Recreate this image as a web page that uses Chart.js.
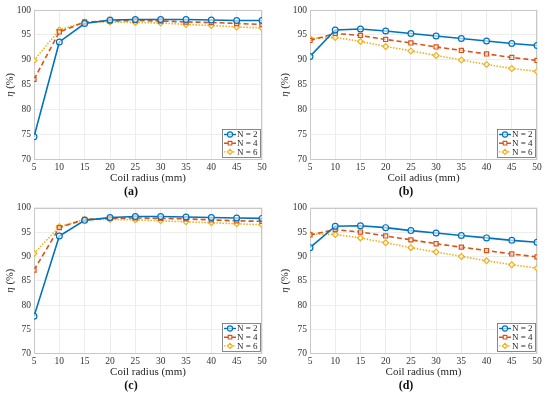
<!DOCTYPE html>
<html>
<head>
<meta charset="utf-8">
<script src="https://cdn.jsdelivr.net/npm/chart.js@4/dist/chart.umd.min.js"></script>
<style>
  body { margin: 0; background: #fff; width: 550px; height: 399px; position: relative; overflow: hidden; }
  .panel { position: absolute; }
</style>
</head>
<body>
<div class="panel" style="left:0;top:0"><canvas id="ca" width="275" height="199"></canvas></div>
<div class="panel" style="left:275px;top:0"><canvas id="cb" width="275" height="199"></canvas></div>
<div class="panel" style="left:0;top:199px"><canvas id="cc" width="275" height="200"></canvas></div>
<div class="panel" style="left:275px;top:199px"><canvas id="cd" width="275" height="200"></canvas></div>
<script>
// coil radius (mm)
const radius = [5, 10, 15, 20, 25, 30, 35, 40, 45, 50];
const seriesNames = ['N = 2', 'N = 4', 'N = 6'];
const yTicks = [70, 75, 80, 85, 90, 95, 100];

// efficiency (%) per panel
const aN2 = [74.6, 93.6, 97.3, 98.0, 98.1, 98.1, 98.1, 98.0, 97.9, 97.9];
const aN4 = [86.1, 95.6, 97.6, 97.8, 97.9, 97.8, 97.6, 97.5, 97.3, 97.1];
const aN6 = [89.9, 96.0, 97.6, 97.6, 97.5, 97.4, 97.1, 96.9, 96.6, 96.4];

const bN2 = [90.7, 96.0, 96.2, 95.8, 95.3, 94.8, 94.3, 93.8, 93.3, 92.9];
const bN4 = [93.9, 95.3, 94.9, 94.1, 93.4, 92.6, 91.9, 91.2, 90.5, 89.9];
const bN6 = [94.3, 94.5, 93.7, 92.7, 91.8, 90.9, 90.0, 89.1, 88.3, 87.7];

const cN2 = [77.7, 94.2, 97.4, 98.0, 98.2, 98.2, 98.1, 98.0, 97.9, 97.8];
const cN4 = [87.2, 95.9, 97.6, 97.8, 97.9, 97.8, 97.7, 97.5, 97.3, 97.2];
const cN6 = [90.6, 96.1, 97.6, 97.6, 97.5, 97.3, 97.1, 96.9, 96.7, 96.5];

const dN2 = [91.8, 96.2, 96.3, 95.9, 95.3, 94.8, 94.3, 93.8, 93.3, 92.9];
const dN4 = [94.4, 95.5, 95.0, 94.2, 93.4, 92.6, 91.9, 91.2, 90.5, 89.9];
const dN6 = [94.6, 94.5, 93.8, 92.8, 91.8, 90.9, 90.0, 89.1, 88.3, 87.6];

const colors = ['#0072BD', '#D95319', '#EDB120'];
const dashes = [[], [5, 3], [1.5, 1.5]];
const markers = ['circle', 'rect', 'rectRot'];
const serif = '"Liberation Serif", "DejaVu Serif", serif';

// box around plot area (matlab "box on")
const frame = {
  id: 'frame',
  beforeDatasetsDraw(chart) {
    const a = chart.chartArea, ctx = chart.ctx;
    ctx.save();
    ctx.strokeStyle = '#c8c8c8';
    ctx.lineWidth = 1;
    ctx.strokeRect(Math.round(a.left) + 0.5, Math.round(a.top) + 0.5,
      Math.round(a.right - a.left) - 1, Math.round(a.bottom - a.top) - 1);
    ctx.restore();
  }
};

// y title: italic eta, upright (%)
const yLabel = {
  id: 'yLabel',
  afterDraw(chart) {
    const ctx = chart.ctx, a = chart.chartArea;
    ctx.save();
    ctx.translate(10, (a.top + a.bottom) / 2);
    ctx.rotate(-Math.PI / 2);
    ctx.fillStyle = '#262626';
    ctx.textBaseline = 'middle';
    ctx.font = 'italic 11px ' + serif;
    const w1 = ctx.measureText('η').width;
    ctx.font = '10.5px ' + serif;
    const w2 = ctx.measureText(' (%)').width;
    let x = -(w1 + w2) / 2;
    ctx.font = 'italic 11px ' + serif;
    ctx.fillText('η', x, 0);
    ctx.font = '10.5px ' + serif;
    ctx.fillText(' (%)', x + w1, 0);
    ctx.restore();
  }
};

// legend box inside the plot, lower right
const boxLegend = {
  id: 'boxLegend',
  afterDraw(chart) {
    const ctx = chart.ctx, a = chart.chartArea;
    const w = 38, h = 28;
    const x0 = Math.round(a.right - w - 2), y0 = Math.round(a.bottom - h - 3);
    ctx.save();
    ctx.fillStyle = '#fff';
    ctx.fillRect(x0, y0, w, h);
    ctx.strokeStyle = '#6a6a6a';
    ctx.lineWidth = 0.8;
    ctx.strokeRect(x0 + 0.5, y0 + 0.5, w, h);
    chart.data.datasets.forEach((ds, i) => {
      const yy = y0 + 5.5 + i * 8.7;
      ctx.strokeStyle = ds.borderColor;
      ctx.lineWidth = 1.4;
      ctx.setLineDash(ds.borderDash || []);
      ctx.beginPath();
      ctx.moveTo(x0 + 2, yy);
      ctx.lineTo(x0 + 14, yy);
      ctx.stroke();
      ctx.setLineDash([]);
      ctx.fillStyle = 'rgba(255,255,255,0.6)';
      ctx.lineWidth = 1.1;
      Chart.helpers.drawPoint(ctx, { pointStyle: ds.pointStyle, rotation: 0, radius: 2.6, borderWidth: 1.1 }, x0 + 8, yy);
      ctx.fillStyle = '#262626';
      ctx.font = '9px ' + serif;
      ctx.textBaseline = 'middle';
      ctx.fillText(ds.label, x0 + 15, yy + 0.5);
    });
    ctx.restore();
  }
};

function makeChart(id, caption, xTitle, series, yWidth, pad) {
  const datasets = series.map((vals, i) => ({
    label: seriesNames[i],
    data: radius.map((r, k) => ({ x: r, y: vals[k] })),
    borderColor: colors[i],
    borderWidth: 1.6,
    borderDash: dashes[i],
    pointStyle: markers[i],
    pointRadius: 2.9,
    pointBorderWidth: 1.2,
    pointBackgroundColor: 'rgba(255,255,255,0.6)',
    pointBorderColor: colors[i],
    tension: 0
  }));
  return new Chart(document.getElementById(id), {
    type: 'line',
    data: { datasets: datasets },
    plugins: [frame, boxLegend, yLabel],
    options: {
      responsive: false,
      animation: false,
      layout: { padding: pad },
      plugins: {
        legend: { display: false },
        tooltip: { enabled: false },
        title: {
          display: true,
          position: 'bottom',
          text: caption,
          color: '#111',
          padding: 0,
          font: { family: serif, size: 12, weight: 'bold', lineHeight: 1.1 }
        }
      },
      scales: {
        x: {
          type: 'linear',
          min: 5, max: 50,
          afterFit: s => { s.height = 26; },
          ticks: { stepSize: 5, padding: 2, color: '#333', font: { family: serif, size: 9.5 } },
          grid: { color: '#ededed', drawTicks: false },
          border: { display: false },
          title: { display: true, text: xTitle, color: '#262626', padding: { top: 0, bottom: 1 }, font: { family: serif, size: 11 } }
        },
        y: {
          min: 70, max: 100,
          afterFit: s => { s.width = yWidth; },
          afterBuildTicks: s => { s.ticks = yTicks.map(v => ({ value: v })); },
          ticks: { padding: 3, color: '#333', font: { family: serif, size: 9.5 } },
          grid: { color: '#ededed', drawTicks: false },
          border: { display: false },
          title: { display: false }
        }
      }
    }
  });
}

makeChart('ca', '(a)', 'Coil radius (mm)', [aN2, aN4, aN6], 34, { top: 10, right: 13, left: 0, bottom: 0 });
makeChart('cb', '(b)', 'Coil adius (mm)', [bN2, bN4, bN6], 35, { top: 10, right: 13, left: 0, bottom: 0 });
makeChart('cc', '(c)', 'Coil radius (mm)', [cN2, cN4, cN6], 34, { top: 5, right: 13, left: 0, bottom: 6 });
makeChart('cd', '(d)', 'Coil radius (mm)', [dN2, dN4, dN6], 35, { top: 5, right: 13, left: 0, bottom: 6 });
</script>
</body>
</html>
